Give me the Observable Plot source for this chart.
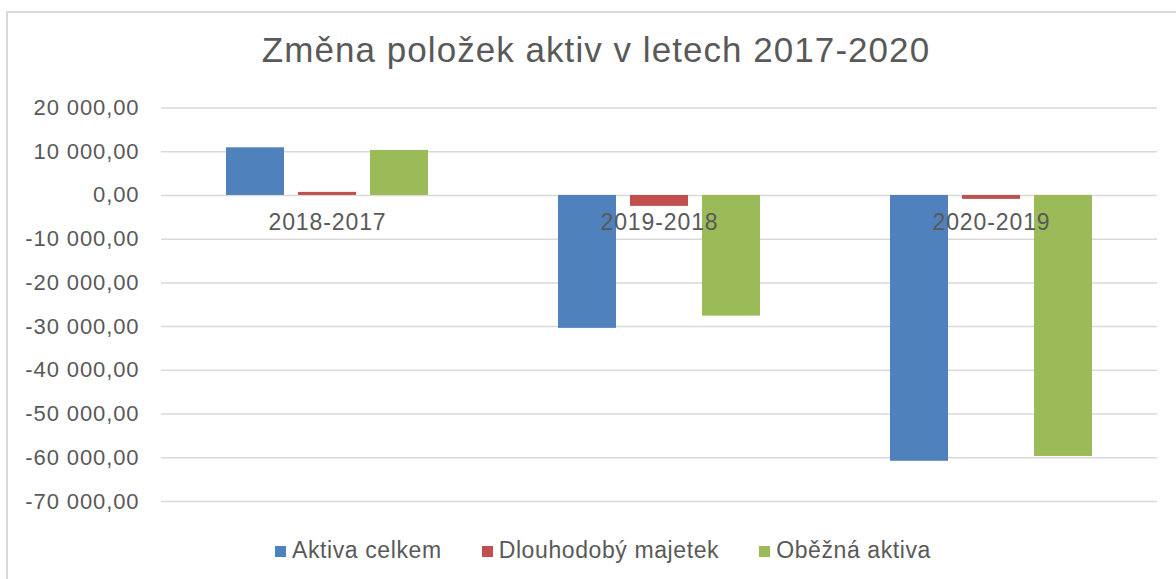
<!DOCTYPE html>
<html>
<head>
<meta charset="utf-8">
<script src="https://cdn.jsdelivr.net/npm/d3@7"></script>
<script src="https://cdn.jsdelivr.net/npm/@observablehq/plot@0.6"></script>
<style>
  html, body { margin: 0; padding: 0; background: #fff; }
  #page { position: relative; width: 1176px; height: 579px; overflow: hidden; font-family: "Liberation Sans", Arial, sans-serif; color: #595959; }
  #frame { position: absolute; left: 6px; top: 11px; width: 1200px; height: 600px; border-left: 2px solid #d9d9d9; border-top: 2px solid #d9d9d9; }
  #title { position: absolute; left: 16px; right: 0; top: 28px; text-align: center; font-size: 35px; letter-spacing: 1.05px; line-height: 44px; }
  #chart { position: absolute; left: 0; top: 90px; }
  #chart svg text { letter-spacing: 0.9px; }
  #legend { position: absolute; left: 275px; top: 536px; display: flex; align-items: center; font-size: 23px; letter-spacing: 0.6px; line-height: 28px; }
  .item { display: flex; align-items: center; margin-right: 40px; }
  .sw { width: 11px; height: 11px; margin-right: 6px; margin-top: 2px; }
</style>
</head>
<body>
<div id="page">
  <div id="frame"></div>
  <div id="title"></div>
  <div id="chart"></div>
  <div id="legend"></div>
</div>
<script>
const titleText = "Změna položek aktiv v letech 2017-2020";
const categories = ["2018-2017", "2019-2018", "2020-2019"];
const series = ["Aktiva celkem", "Dlouhodobý majetek", "Oběžná aktiva"];
const aktivaCelkem = [10900, -30400, -60800];
const dlouhodobyMajetek = [700, -2500, -900];
const obeznaAktiva = [10300, -27600, -59700];
const colors = ["#4F81BD", "#C0504D", "#9BBB59"];
const yTicks = [20000, 10000, 0, -10000, -20000, -30000, -40000, -50000, -60000, -70000];

const seriesValues = [aktivaCelkem, dlouhodobyMajetek, obeznaAktiva];
const rows = [];
categories.forEach((c, i) => {
  series.forEach((s, j) => rows.push({cat: c, series: s, value: seriesValues[j][i]}));
});

const locale = d3.formatLocale({decimal: ",", thousands: "\u00a0", grouping: [3], currency: ["", " Kč"], minus: "-"});
const fmt = locale.format(",.2f");

document.getElementById("title").textContent = titleText;

const chart = Plot.plot({
  width: 1176,
  height: 440,
  marginLeft: 160,
  marginRight: 19,
  marginTop: 17.5,
  marginBottom: 29,
  style: {fontFamily: "'Liberation Sans', Arial, sans-serif", fontSize: "22px", color: "#595959", background: "transparent"},
  fx: {domain: categories, padding: 0, axis: null},
  x: {domain: series, paddingInner: 0.2, paddingOuter: 0.876, axis: null},
  y: {domain: [-70000, 20000], axis: null},
  color: {domain: series, range: colors},
  marks: [
    Plot.gridY(yTicks, {stroke: "#d9d9d9", strokeOpacity: 1, strokeWidth: 1.5}),
    Plot.axisY(yTicks, {tickSize: 0, tickPadding: 22, tickFormat: fmt, fontSize: 22, fill: "#595959", label: null}),
    Plot.barY(rows, {fx: "cat", x: "series", y: "value", fill: "series"}),
    Plot.text(categories, {fx: d => d, y: () => 0, text: d => d, dy: 27, fontSize: 23, fill: "#595959"})
  ]
});
document.getElementById("chart").appendChild(chart);

const legend = document.getElementById("legend");
series.forEach((s, i) => {
  const item = document.createElement("div");
  item.className = "item";
  const sw = document.createElement("span");
  sw.className = "sw";
  sw.style.background = colors[i];
  const label = document.createElement("span");
  label.textContent = s;
  item.appendChild(sw);
  item.appendChild(label);
  legend.appendChild(item);
});
</script>
</body>
</html>
